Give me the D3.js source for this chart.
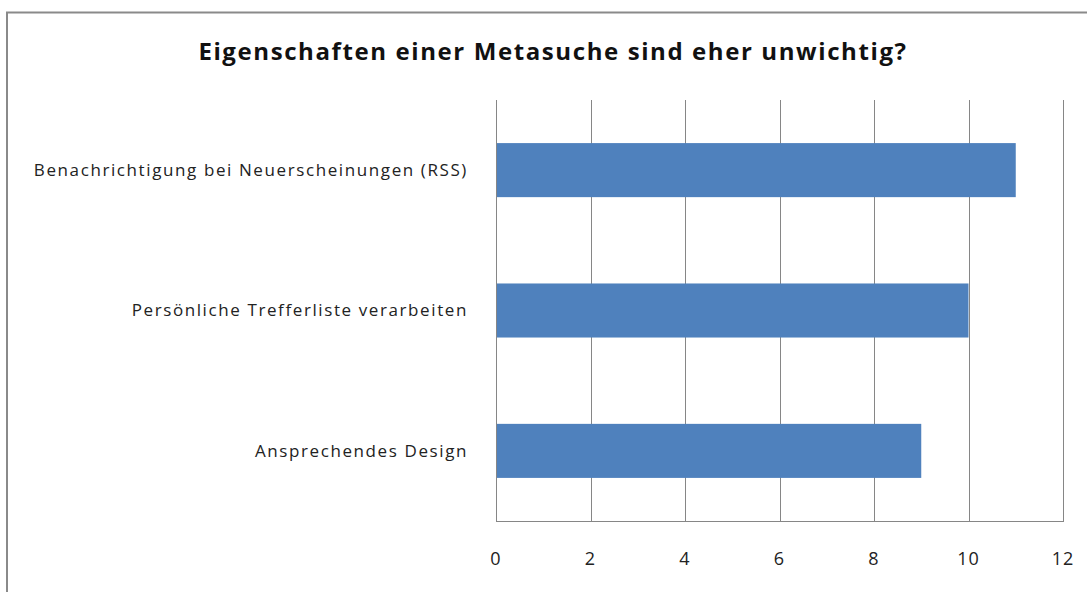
<!DOCTYPE html>
<html>
<head>
<meta charset="utf-8">
<script src="https://cdn.jsdelivr.net/npm/d3@7"></script>
<style>
  body { margin: 0; background: #fff; }
  svg { display: block; font-family: "Open Sans", sans-serif; }
</style>
</head>
<body>
<svg id="chart"></svg>
<script>
const categories = [
	'Benachrichtigung bei Neuerscheinungen (RSS)',
	'Persönliche Trefferliste verarbeiten',
	'Ansprechendes Design'
] ;
const values = [ 11, 10, 9 ] ;
const xTicks = [ 0, 2, 4, 6, 8, 10, 12 ] ;
const title = 'Eigenschaften einer Metasuche sind eher unwichtig?' ;

const geom = {
	width: 1087,
	height: 592,
	margins: { top: 100, left: 496, right: 24, bottom: 71 }
} ;

const svg = d3.select( '#chart' )
	.attr( 'width', geom.width )
	.attr( 'height', geom.height ) ;

// outer frame (runs off the right and bottom of the picture)
svg.append( 'rect' )
	.attr( 'x', 7 )
	.attr( 'y', 12.5 )
	.attr( 'width', geom.width + 20 )
	.attr( 'height', geom.height + 20 )
	.attr( 'fill', 'none' )
	.attr( 'stroke', '#8a8a8a' )
	.attr( 'stroke-width', 2 ) ;

const x = d3.scaleLinear()
	.domain( [ 0, 12 ] )
	.range( [ geom.margins.left, geom.width - geom.margins.right ] ) ;

const y = d3.scaleBand()
	.domain( categories )
	.range( [ geom.margins.top, geom.height - geom.margins.bottom ] )
	.paddingInner( 0.615 )
	.paddingOuter( 0.307 ) ;

// gridlines
svg.append( 'g' )
	.selectAll( 'line' )
	.data( xTicks )
	.join( 'line' )
	.attr( 'x1', d => Math.round( x(d) ) + 0.5 )
	.attr( 'x2', d => Math.round( x(d) ) + 0.5 )
	.attr( 'y1', geom.margins.top )
	.attr( 'y2', geom.height - geom.margins.bottom )
	.attr( 'stroke', '#868686' )
	.attr( 'stroke-width', 1 ) ;

// bottom axis line
svg.append( 'line' )
	.attr( 'x1', x(0) )
	.attr( 'x2', x(12) + 1 )
	.attr( 'y1', geom.height - geom.margins.bottom + 0.5 )
	.attr( 'y2', geom.height - geom.margins.bottom + 0.5 )
	.attr( 'stroke', '#868686' ) ;

// bars
svg.append( 'g' )
	.selectAll( 'rect' )
	.data( values )
	.join( 'rect' )
	.attr( 'x', x(0) + 1 )
	.attr( 'y', (d, i) => y( categories[i] ) )
	.attr( 'width', d => x(d) - x(0) - 1 )
	.attr( 'height', y.bandwidth() )
	.attr( 'fill', '#4f81bd' ) ;

// category labels
svg.append( 'g' )
	.selectAll( 'text' )
	.data( categories )
	.join( 'text' )
	.attr( 'x', x(0) - 28 )
	.attr( 'y', d => y(d) + y.bandwidth() / 2 )
	.attr( 'dy', '0.35em' )
	.attr( 'text-anchor', 'end' )
	.attr( 'font-size', 17 )
	.attr( 'letter-spacing', 1.6 )
	.attr( 'fill', '#222' )
	.text( d => d ) ;

// tick labels
svg.append( 'g' )
	.selectAll( 'text' )
	.data( xTicks )
	.join( 'text' )
	.attr( 'x', d => x(d) )
	.attr( 'y', 559 )
	.attr( 'dy', '0.35em' )
	.attr( 'text-anchor', 'middle' )
	.attr( 'font-size', 18 )
	.attr( 'letter-spacing', 1 )
	.attr( 'fill', '#222' )
	.text( d => d ) ;

svg.append( 'text' )
	.attr( 'x', 553 )
	.attr( 'y', 52 )
	.attr( 'dy', '0.35em' )
	.attr( 'text-anchor', 'middle' )
	.attr( 'font-size', 24 )
	.attr( 'font-weight', 'bold' )
	.attr( 'letter-spacing', 1.6 )
	.attr( 'fill', '#111' )
	.text( title ) ;
</script>
</body>
</html>
